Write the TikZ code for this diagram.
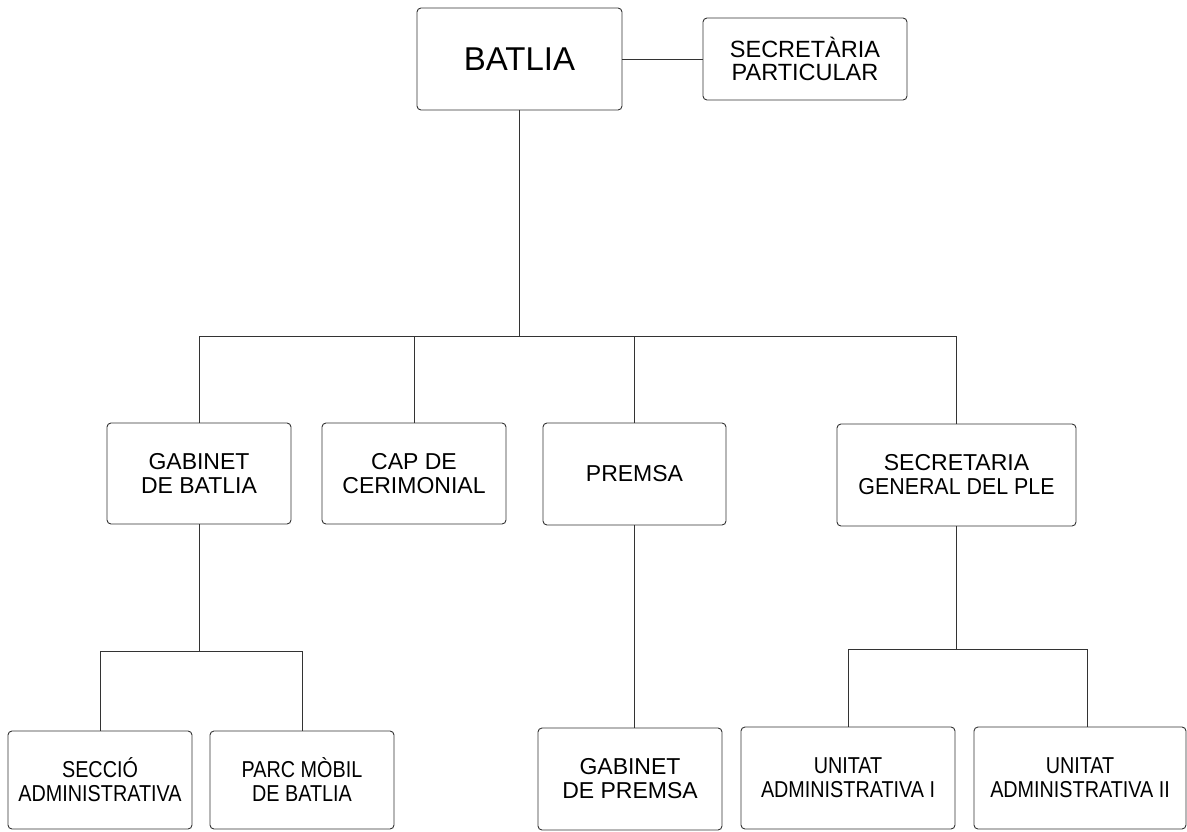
\documentclass[tikz,border=0pt]{standalone}
\usepackage{fontspec}
\setmainfont{Liberation Sans}
\newfontfamily\narrowfont[FakeStretch=0.86]{Liberation Sans}
\newfontfamily\semifont[FakeStretch=0.93]{Liberation Sans}
\begin{document}
\begin{tikzpicture}[x=1pt,y=-1pt,
  orgbox/.style={draw=black!80, line width=0.9pt, rounded corners=4pt, align=center,
    inner sep=0pt, font=\fontsize{23}{24}\selectfont},
  narrowbox/.style={orgbox, font=\narrowfont\fontsize{23}{24}\selectfont},
  link/.style={draw=black!80, line width=0.9pt}]
\useasboundingbox (0,0) rectangle (1187,831);
% boxes
\node[orgbox, minimum width=205pt, minimum height=102pt, font=\fontsize{33}{34}\selectfont] (batlia) at (519.5,59) {BATLIA};
\node[orgbox, minimum width=204pt, minimum height=82pt, font=\fontsize{23.5}{23.5}\selectfont] (secpart) at (805,59) {SECRETÀRIA\\PARTICULAR};
\node[orgbox, minimum width=184pt, minimum height=101pt] (gabbat) at (199,473.5) {GABINET\\DE BATLIA};
\node[orgbox, minimum width=184pt, minimum height=101pt] (cap) at (414,473.5) {CAP DE\\CERIMONIAL};
\node[orgbox, minimum width=183pt, minimum height=102pt] (premsa) at (634.5,474) {PREMSA};
\node[orgbox, minimum width=239pt, minimum height=102pt] (secgen) at (956.5,475) {SECRETARIA\\{\semifont GENERAL DEL PLE}};
\node[narrowbox, minimum width=184pt, minimum height=98pt] (seccio) at (100,780) {SECCIÓ\\ADMINISTRATIVA};
\node[narrowbox, minimum width=184pt, minimum height=98pt] (parc) at (302,780) {PARC MÒBIL\\DE BATLIA};
\node[orgbox, minimum width=184pt, minimum height=102pt] (gabpremsa) at (630,779) {GABINET\\DE PREMSA};
\node[narrowbox, minimum width=214pt, minimum height=102pt] (unitat1) at (848,778) {UNITAT\\ADMINISTRATIVA I};
\node[narrowbox, minimum width=212pt, minimum height=102pt] (unitat2) at (1080,778) {UNITAT\\ADMINISTRATIVA II};
% bus levels
\coordinate (busA) at (0,336);
\coordinate (busB) at (0,651);
\coordinate (busC) at (0,649);
\coordinate (u2top) at ([xshift=7pt]unitat2.north);
% connectors
\draw[link] (batlia.east) -- (secpart.west);
\draw[link] (batlia.south) -- (batlia.south |- busA);
\draw[link] (gabbat.north) |- (secgen.north |- busA) -- (secgen.north);
\draw[link] (cap.north) -- (cap.north |- busA);
\draw[link] (premsa.north) -- (premsa.north |- busA);
\draw[link] (gabbat.south) -- (gabbat.south |- busB);
\draw[link] (seccio.north) |- (parc.north |- busB) -- (parc.north);
\draw[link] (premsa.south) -- (premsa.south |- gabpremsa.north);
\draw[link] (secgen.south) -- (secgen.south |- busC);
\draw[link] (unitat1.north) |- (u2top |- busC) -- (u2top);
\end{tikzpicture}
\end{document}
